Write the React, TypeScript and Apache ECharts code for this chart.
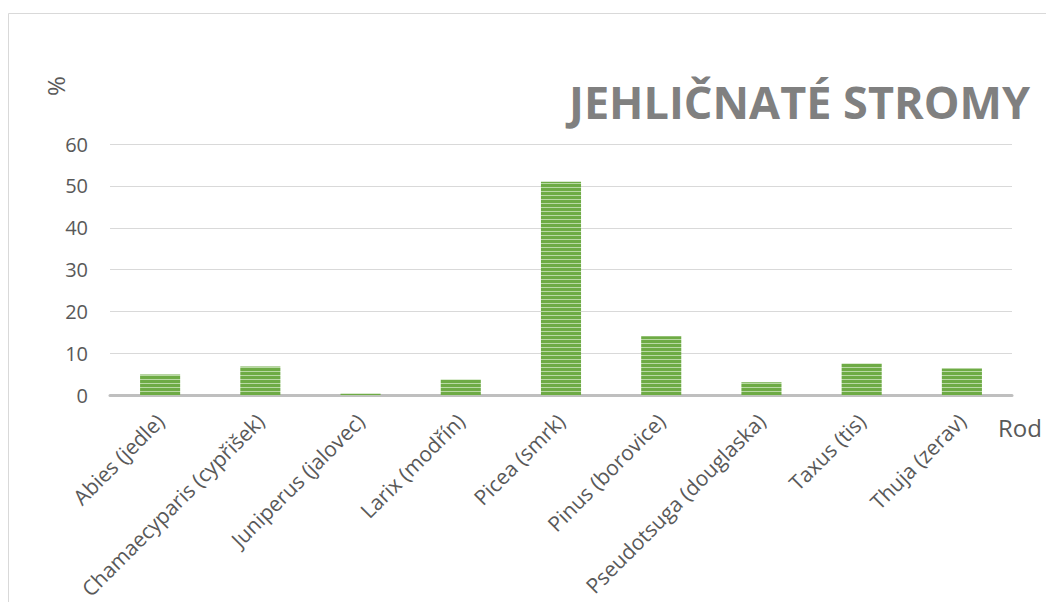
import React, { useEffect, useRef } from "react";
import * as echarts from "echarts";

const categories = [
  "Abies (jedle)",
  "Chamaecyparis (cypřišek)",
  "Juniperus (jalovec)",
  "Larix (modřín)",
  "Picea (smrk)",
  "Pinus (borovice)",
  "Pseudotsuga (douglaska)",
  "Taxus (tis)",
  "Thuja (zerav)",
];
const values = [5.0, 6.9, 0.4, 3.8, 51.0, 14.1, 3.1, 7.6, 6.4];
const yTicks = { min: 0, max: 60, interval: 10 };
const titleText = "JEHLIČNATÉ STROMY";
const yName = "%";
const xName = "Rod";

function makeStripes(): HTMLCanvasElement {
  const c = document.createElement("canvas");
  c.width = 4;
  c.height = 4;
  const ctx = c.getContext("2d")!;
  ctx.fillStyle = "#6EAB45";
  ctx.fillRect(0, 0, 4, 4);
  ctx.fillStyle = "#B9D9A4";
  ctx.fillRect(0, 3, 4, 1);
  return c;
}

export default function App() {
  const ref = useRef<HTMLDivElement>(null);
  useEffect(() => {
    if (!ref.current) return;
    const chart = echarts.init(ref.current, undefined, { renderer: "svg" });
    const font = "'Open Sans', sans-serif";
    chart.setOption({
      animation: false,
      grid: { left: 102, right: 42, top: 136, bottom: 206, containLabel: false },
      graphic: [
        {
          type: "rect",
          shape: { x: 0.5, y: 5.5, width: 1200, height: 800 },
          style: { fill: "none", stroke: "#D9D9D9", lineWidth: 1 },
          silent: true,
        },
        {
          type: "text",
          x: 1022,
          y: 93,
          style: {
            text: titleText,
            fontFamily: font,
            fontWeight: "bold",
            fontSize: 45,
            fill: "#808080",
            textAlign: "right",
            textVerticalAlign: "middle",
          },
        },
        {
          type: "text",
          x: 47,
          y: 78,
          rotation: Math.PI / 2,
          style: {
            text: yName,
            fontFamily: font,
            fontSize: 24,
            fill: "#595959",
            textAlign: "center",
            textVerticalAlign: "middle",
          },
        },
        {
          type: "text",
          x: 990,
          y: 419,
          style: {
            text: xName,
            fontFamily: font,
            fontSize: 24,
            fill: "#595959",
            textAlign: "left",
            textVerticalAlign: "middle",
          },
        },
      ],
      xAxis: {
        type: "category",
        data: categories,
        axisLine: { show: true, lineStyle: { color: "#BFBFBF", width: 3 } },
        axisTick: { show: false },
        axisLabel: {
          rotate: 45,
          interval: 0,
          margin: 22,
          fontFamily: font,
          fontSize: 21,
          color: "#595959",
        },
      },
      yAxis: {
        type: "value",
        min: yTicks.min,
        max: yTicks.max,
        interval: yTicks.interval,
        axisLine: { show: false },
        axisTick: { show: false },
        splitLine: { lineStyle: { color: "#D9D9D9", width: 1 } },
        axisLabel: {
          margin: 22,
          fontFamily: font,
          fontSize: 20,
          color: "#595959",
        },
      },
      series: [
        {
          type: "bar",
          data: values,
          barWidth: "40%",
          itemStyle: {
            color: { image: makeStripes(), repeat: "repeat" },
          },
        },
      ],
    });
    return () => chart.dispose();
  }, []);
  return <div ref={ref} style={{ width: 1046, height: 594 }} />;
}
